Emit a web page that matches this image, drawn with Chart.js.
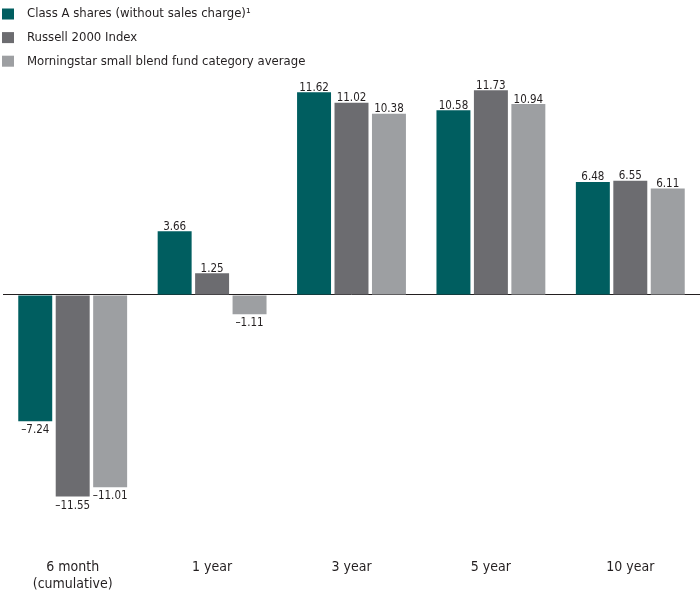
<!DOCTYPE html>
<html>
<head>
<meta charset="utf-8">
<script src="https://cdn.jsdelivr.net/npm/chart.js@4.4.1/dist/chart.umd.min.js"></script>
<style>
  body { margin: 0; background: #fff; }
</style>
</head>
<body>
<canvas id="myChart" width="700" height="594"></canvas>
<script>
const categories = [['6 month', '(cumulative)'], '1 year', '3 year', '5 year', '10 year'];
const seriesNames = ['Class A shares (without sales charge)\u00b9', 'Russell 2000 Index', 'Morningstar small blend fund category average'];
const classA = [-7.24, 3.66, 11.62, 10.58, 6.48];
const russell2000 = [-11.55, 1.25, 11.02, 11.73, 6.55];
const morningstar = [-11.01, -1.11, 10.38, 10.94, 6.11];

const fontFamily = "'Liberation Sans Narrow', 'DejaVu Sans Condensed', 'Open Sans', sans-serif";
const textColor = '#231f20';
const colors = ['#005e60', '#6c6c70', '#9d9fa2'];

Chart.defaults.font.family = fontFamily;
Chart.defaults.color = textColor;

// numbers above / below each bar
const valueLabels = {
  id: 'valueLabels',
  afterDatasetsDraw(chart) {
    const ctx = chart.ctx;
    ctx.save();
    ctx.font = '11.5px ' + fontFamily;
    ctx.fillStyle = textColor;
    ctx.textAlign = 'center';
    ctx.textBaseline = 'alphabetic';
    chart.data.datasets.forEach((ds, i) => {
      chart.getDatasetMeta(i).data.forEach((bar, j) => {
        const v = ds.data[j];
        const txt = (v < 0 ? '\u2013' : '') + Math.abs(v).toFixed(2);
        ctx.fillText(txt, bar.x, v < 0 ? bar.y + 12 : bar.y - 1.5);
      });
    });
    ctx.restore();
  }
};

// legend stacked one item per row in the top left corner
const stackedLegend = {
  id: 'stackedLegend',
  afterDraw(chart) {
    const ctx = chart.ctx;
    ctx.save();
    ctx.font = '13px ' + fontFamily;
    ctx.textBaseline = 'middle';
    chart.data.datasets.forEach((ds, i) => {
      const y = 14 + i * 23.6;
      ctx.fillStyle = ds.backgroundColor;
      ctx.fillRect(2, y - 5.5, 12, 11);
      ctx.fillStyle = textColor;
      ctx.fillText(ds.label, 27, y);
    });
    ctx.restore();
  }
};

const ctx = document.getElementById('myChart');

const myChart = new Chart(ctx, {
  type: 'bar',
  data: {
    labels: categories,
    datasets: [classA, russell2000, morningstar].map((values, i) => ({
      label: seriesNames[i],
      data: values,
      backgroundColor: colors[i],
      borderWidth: 0,
      categoryPercentage: 0.806,
      barPercentage: 0.907
    }))
  },
  options: {
    responsive: false,
    animation: false,
    layout: {
      padding: { left: 3, right: -1.5, top: 0, bottom: 0.5 }
    },
    scales: {
      x: {
        grid: { display: false, tickLength: 9 },
        border: { display: false },
        ticks: {
          font: { size: 14, lineHeight: '17px' },
          color: textColor,
          padding: 1,
          maxRotation: 0,
          autoSkip: false
        }
      },
      y: {
        min: -14.527,
        max: 16.905,
        border: { display: false },
        ticks: { display: false },
        grid: {
          drawTicks: false,
          color: (c) => c.tick.value === 0 ? textColor : 'rgba(0,0,0,0)',
          lineWidth: 1
        }
      }
    },
    plugins: {
      legend: { display: false },
      tooltip: { enabled: false }
    }
  },
  plugins: [valueLabels, stackedLegend]
});
</script>
</body>
</html>
